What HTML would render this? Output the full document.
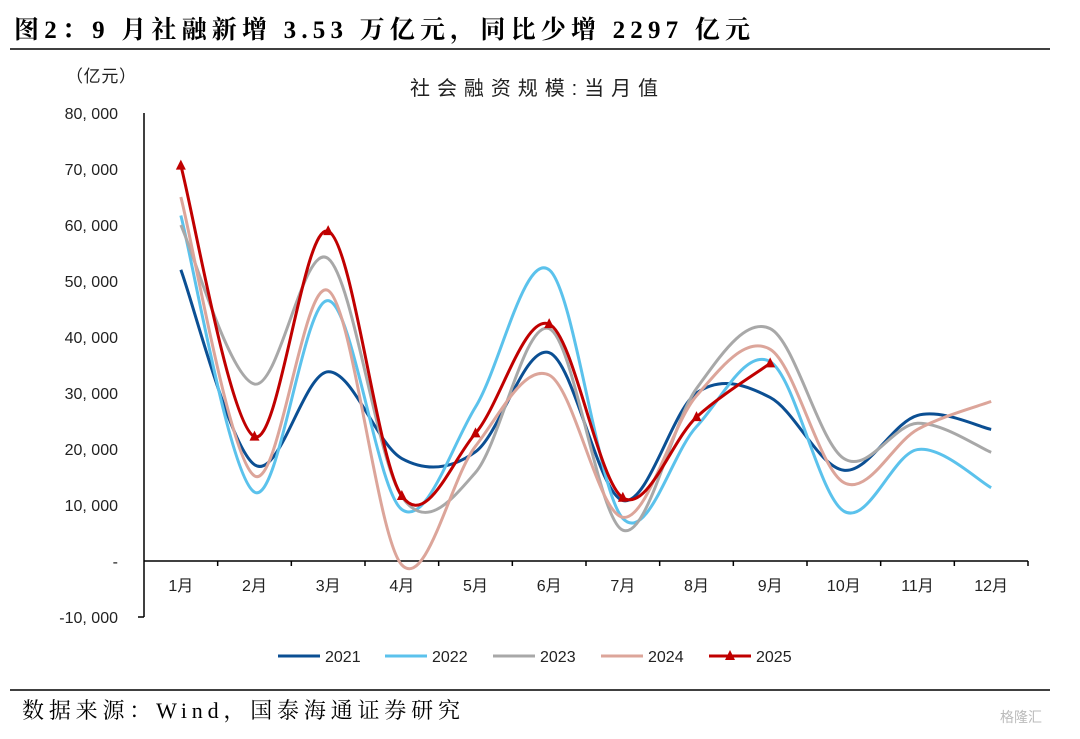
<!DOCTYPE html>
<html><head><meta charset="utf-8"><style>
body{margin:0;background:#fff;width:1080px;height:734px;overflow:hidden}
svg text{font-family:"Liberation Sans","Noto Sans CJK SC",sans-serif}
</style></head><body>
<svg id="c" width="1080" height="734" xmlns="http://www.w3.org/2000/svg">
<text x="14" y="38" font-size="25" font-weight="bold" textLength="736" lengthAdjust="spacing" style="font-family:'Liberation Serif','Noto Serif CJK SC',serif">图2：9 月社融新增 3.53 万亿元，同比少增 2297 亿元</text>
<line x1="10" y1="49" x2="1050" y2="49" stroke="#000" stroke-width="1.5"/>
<text x="66" y="82" font-size="17" fill="#222" textLength="70">（亿元）</text>
<text x="410" y="95" font-size="20" textLength="248" lengthAdjust="spacing" fill="#222">社会融资规模:当月值</text>
<g id="axes"></g><g id="series"></g><g id="legend"></g>
<line x1="10" y1="690" x2="1050" y2="690" stroke="#000" stroke-width="1.5"/>
<text x="22" y="718" font-size="22" textLength="438" lengthAdjust="spacing" style="font-family:'Liberation Serif','Noto Serif CJK SC',serif">数据来源：Wind，国泰海通证券研究</text>
<text x="1000" y="722" font-size="14" fill="#bbb">格隆汇</text>
</svg>
<script>
const months=["1月","2月","3月","4月","5月","6月","7月","8月","9月","10月","11月","12月"];
const yTicks=[80000,70000,60000,50000,40000,30000,20000,10000,0,-10000];
const yTickLabels=["80, 000","70, 000","60, 000","50, 000","40, 000","30, 000","20, 000","10, 000","-","-10, 000"];
const seriesNames=["2021","2022","2023","2024","2025"];
const s2021=[52000,17200,33800,18300,19500,37200,10800,30000,29200,16200,26000,23500];
const s2022=[61700,12300,46500,9200,27500,52000,7600,24000,35600,8900,19900,13100];
const s2023=[60000,31600,54000,11500,15800,41500,5500,30800,41500,18300,24600,19400];
const s2024=[65000,15200,48300,-700,20500,33200,7800,29500,37800,14000,23500,28500];
const s2025=[70600,22200,58900,11600,22800,42300,11300,25700,35300];
const colors=["#0b4f93","#5bc2ec","#a8a8a8","#dca59a","#c00000"];
const NS="http://www.w3.org/2000/svg";
const x0=144,x1=1028,yTop=113,yBot=617;
const xs=i=>x0+(x1-x0)/12*(i+0.5);
const ys=v=>561-v/10000*56;
function el(t,a,p){const e=document.createElementNS(NS,t);for(const k in a)e.setAttribute(k,a[k]);p.appendChild(e);return e;}
const ax=document.getElementById('axes');
let l=el('line',{x1:x0,y1:yTop,x2:x0,y2:yBot,stroke:'#000','stroke-width':1.5},ax);


l=el('line',{x1:x0-6,y1:yBot,x2:x0,y2:yBot,stroke:'#000','stroke-width':1.5},ax);


l=el('line',{x1:x0,y1:ys(0),x2:x1,y2:ys(0),stroke:'#000','stroke-width':1.5},ax);


yTicks.forEach((v,i)=>{const t=el('text',{x:118,y:ys(v)+6,'font-size':16,'text-anchor':'end',fill:'#222'},ax);t.textContent=yTickLabels[i];

});
months.forEach((m,i)=>{const t=el('text',{x:xs(i),y:591,'font-size':16,'text-anchor':'middle',fill:'#222'},ax);t.textContent=m;


const tk=el('line',{x1:x0+(x1-x0)/12*(i+1),y1:ys(0),x2:x0+(x1-x0)/12*(i+1),y2:ys(0)+5,stroke:'#000','stroke-width':1.5},ax);

});
function path(vals){const p=vals.map((v,i)=>[xs(i),ys(v)]);let d=`M${p[0][0]},${p[0][1]}`;
for(let i=0;i<p.length-1;i++){const a=p[i-1]||p[i],b=p[i],c=p[i+1],e=p[i+2]||c;
d+=`C${b[0]+(c[0]-a[0])/6},${b[1]+(c[1]-a[1])/6} ${c[0]-(e[0]-b[0])/6},${c[1]-(e[1]-b[1])/6} ${c[0]},${c[1]}`;}return d;}
const sg=document.getElementById('series');
[s2021,s2022,s2023,s2024,s2025].forEach((s,k)=>{const p=el('path',{d:path(s),fill:'none',stroke:colors[k],'stroke-width':3},sg);

});
s2025.forEach((v,i)=>{const x=xs(i),y=ys(v);const m=el('polygon',{points:`${x},${y-6} ${x-5},${y+4} ${x+5},${y+4}`,fill:colors[4]},sg);

});
const lg=document.getElementById('legend');
const lx=[278,385,493,601,709];
seriesNames.forEach((n,k)=>{const g=el('g',{},lg);


el('line',{x1:lx[k],y1:656,x2:lx[k]+42,y2:656,stroke:colors[k],'stroke-width':3},g);
if(k==4)el('polygon',{points:`${lx[k]+21},650 ${lx[k]+16},660 ${lx[k]+26},660`,fill:colors[4]},g);
const t=el('text',{x:lx[k]+47,y:662,'font-size':16,fill:'#222'},g);t.textContent=n;});
</script>
</body></html>
